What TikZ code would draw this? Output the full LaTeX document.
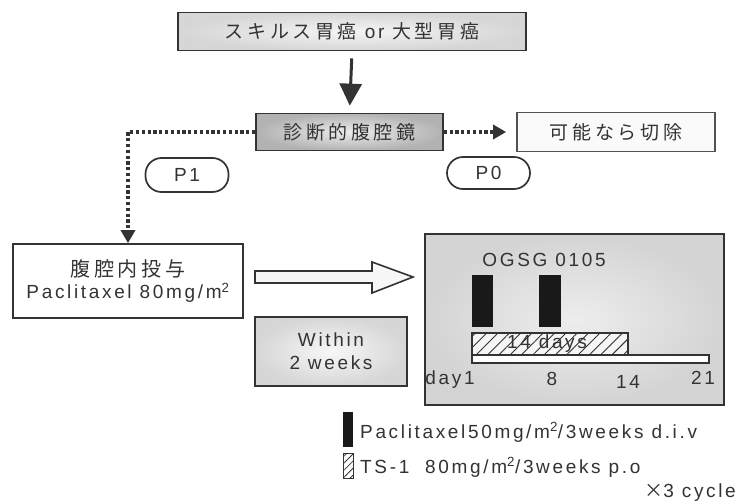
\documentclass[tikz,border=0pt]{standalone}
\usepackage{fontspec}
\setmainfont{Liberation Sans}[LetterSpace=14]
\newfontfamily\jp{Noto Sans CJK JP}[LetterSpace=19]
\usetikzlibrary{arrows.meta,patterns.meta}
\definecolor{ink}{gray}{0.2}
\begin{document}
\begin{tikzpicture}[x=1pt,y=-1pt,
  font=\fontsize{19}{23}\selectfont, text=ink,
  box/.style={draw=ink, line width=1.7pt, inner sep=0pt},
  pill/.style={draw=ink, line width=1.7pt, rounded corners=16pt, minimum width=83pt, inner sep=0pt},
  dotline/.style={draw=ink, line width=3.4pt, dash pattern=on 3.2pt off 2.6pt},
  dtip/.style={-{Triangle[width=14pt,length=13pt]}},
  hatch/.style={pattern={Lines[angle=45,distance=8pt,line width=0.9pt]}, pattern color=ink}
]
\useasboundingbox (0,0) rectangle (738,503);
\fill[white] (0,0) rectangle (738,503);

% nodes
\node[box, inner color=gray!8, outer color=gray!32, minimum width=348pt, minimum height=38pt] (top) at (352,31.5)
  {{\jp スキルス胃癌} or {\jp 大型胃癌}};
\node[box, inner color=gray!15, outer color=gray!60, minimum width=187pt, minimum height=37pt] (diag) at (349.5,132)
  {\jp 診断的腹腔鏡};
\node[box, draw=ink!85, fill=gray!4, minimum width=198pt, minimum height=39pt] (resect) at (616,132)
  {\jp 可能なら切除};
\node[pill, minimum height=34pt] (p1) at (187,175) {P1};
\node[pill, minimum height=32pt] (p0) at (488.5,173) {P0};
\node[box, fill=white, minimum width=230pt, minimum height=74pt, align=center] (ip) at (128,281)
  {{\jp\fontsize{20}{23}\selectfont 腹腔内投与}\\[-1pt]Paclitaxel 80mg/m\textsuperscript{2}};
\node[box, inner color=gray!6, outer color=gray!32, minimum width=152pt, minimum height=69pt, align=center] (within) at (331,351.5)
  {Within\\2 weeks};
\node[box, inner color=gray!14, outer color=gray!34, minimum width=299pt, minimum height=171pt] (ogsg) at (574.5,319.5) {};

% connectors
\draw[ink, line width=3pt, -{Triangle[width=22pt,length=22pt]}, shorten <=7pt, shorten >=7pt] (top.south) -- (diag.north);
\draw[dotline, dtip, shorten >=10pt] (diag.east) -- (resect.west);
\draw[dotline, dtip] (diag.west) -| (ip.north);

% hollow arrow
\draw[draw=ink, line width=1.6pt, fill=gray!6, line join=miter]
  (255,271) -- (372,271) -- (372,262) -- (413,277) -- (372,293) -- (372,283) -- (255,283) -- cycle;

% OGSG content
\node[anchor=base] (ogt) at (544,266) {OGSG 0105};
\fill[black!90] (472,275) rectangle (493,327);
\fill[black!90] (539,275) rectangle (561,327);
\fill[gray!8] (472,333) rectangle (628,355);
\draw[hatch] (472,333) rectangle (628,355);
\draw[ink, line width=1.2pt] (472,333) rectangle (628,355);
\node (days) at (547,344) {14 days};
\draw[ink, line width=1.2pt, fill=white] (472,355) rectangle (709,363);
\node[anchor=base] (d1) at (450,384) {day1};
\node[anchor=base] (d8) at (552,385) {8};
\node[anchor=base] (d14) at (628,388) {14};
\node[anchor=base] (d21) at (703,384) {21};

% legend
\fill[black!90] (343,412) rectangle (353,447);
\fill[white] (343,453) rectangle (353,478);
\draw[pattern={Lines[angle=45,distance=5pt,line width=0.8pt]}, pattern color=ink, draw=ink, line width=0.8pt] (343,453) rectangle (353,478);
\node[anchor=base west, inner sep=0pt] (lg1) at (360,438) {Paclitaxel50mg/m\textsuperscript{2}/3weeks d.i.v};
\node[anchor=base west, inner sep=0pt] (lg2) at (360,473) {TS-1\ \ 80mg/m\textsuperscript{2}/3weeks p.o};
\node[anchor=base east, inner sep=0pt] (lg3) at (736,497) {{\jp ×}3 cycle};
\end{tikzpicture}
\end{document}
